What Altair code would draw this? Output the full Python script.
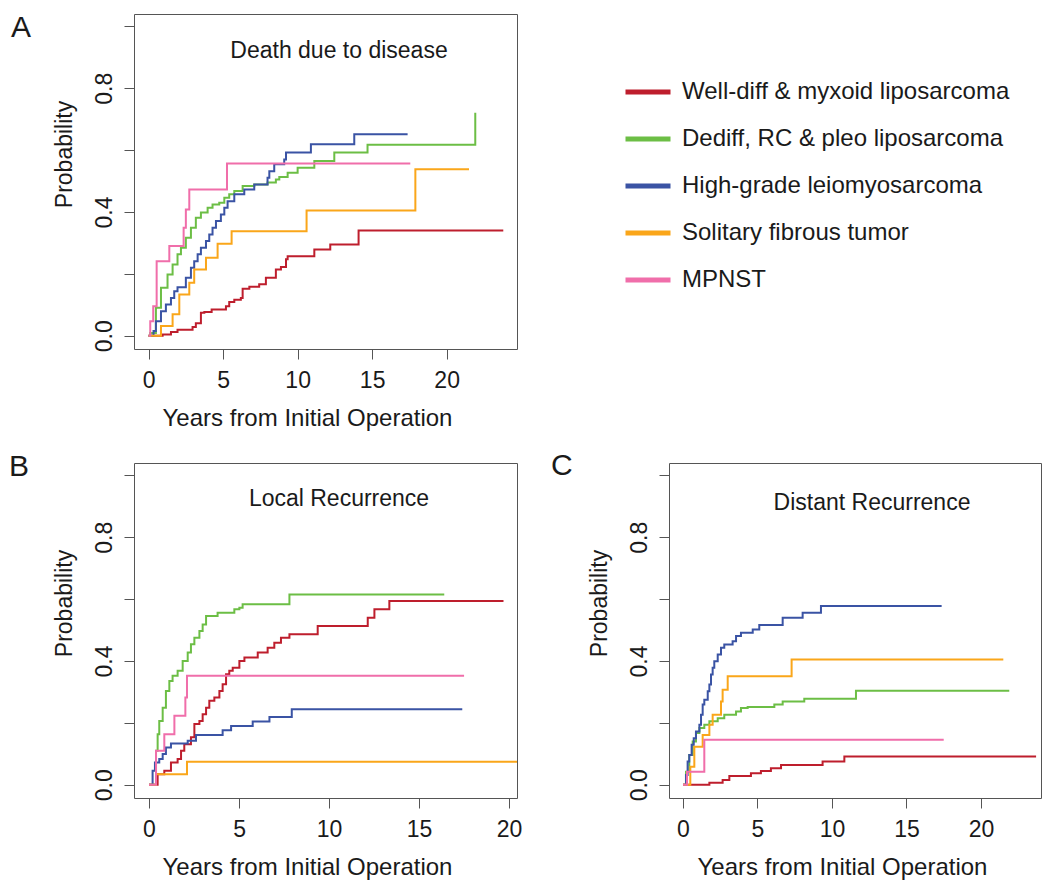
import altair as alt
import pandas as pd

FONT = "Liberation Sans"
TEXT = "#1a1a1a"
FRAME = "#555555"

GROUPS = ["Well-diff & myxoid liposarcoma", "Dediff, RC & pleo liposarcoma",
          "High-grade leiomyosarcoma", "Solitary fibrous tumor", "MPNST"]
COLORS = ["#BE1E2D", "#6CBE45", "#3A53A4", "#FAA61A", "#F06EAA"]

X_TICKS = [0, 5, 10, 15, 20]
Y_TICKS = [0, 0.2, 0.4, 0.6, 0.8, 1.0]

# ---- Panel A: death due to disease ----
death_wd_t = [0, 0.94, 1.50, 1.94, 2.95, 3.17, 3.51, 3.74, 4.23, 5.19, 5.41, 5.75, 6.19, 6.31, 6.76,
              7.42, 7.87, 8.54, 8.88, 9.22, 9.33, 11.12, 12.19, 14.09, 23.8]
death_wd_p = [0, 0.004, 0.012, 0.019, 0.028, 0.040, 0.074, 0.077, 0.085, 0.095, 0.109, 0.116, 0.122, 0.152, 0.158,
              0.166, 0.187, 0.214, 0.222, 0.247, 0.257, 0.279, 0.295, 0.340, 0.340]
death_dd_t = [0, 0.11, 0.49, 0.83, 1.27, 1.61, 1.94, 2.17, 2.50, 2.84, 3.17, 3.51, 3.96, 4.29, 4.74, 5.08,
              5.41, 5.75, 6.31, 7.09, 7.98, 8.54, 8.77, 9.33, 10.0, 11.12, 12.46, 14.69, 21.92]
death_dd_p = [0, 0.009, 0.090, 0.155, 0.198, 0.230, 0.263, 0.284, 0.317, 0.349, 0.381, 0.398, 0.414, 0.424, 0.430, 0.446,
              0.457, 0.468, 0.484, 0.489, 0.495, 0.505, 0.513, 0.527, 0.543, 0.565, 0.592, 0.617, 0.721]
death_hg_t = [0, 0.27, 0.33, 0.49, 0.83, 1.16, 1.50, 1.72, 1.94, 2.50, 2.84, 3.06, 3.29, 3.51, 3.85, 4.07,
              4.29, 4.52, 4.85, 5.08, 5.30, 5.75, 6.42, 7.09, 7.98, 8.10, 8.43, 9.10, 9.22, 10.89, 13.80, 17.38]
death_hg_p = [0, 0.0, 0.015, 0.047, 0.079, 0.101, 0.122, 0.144, 0.157, 0.187, 0.220, 0.241, 0.263, 0.284, 0.306, 0.327,
              0.349, 0.371, 0.392, 0.414, 0.435, 0.457, 0.473, 0.489, 0.511, 0.532, 0.554, 0.570, 0.592, 0.619, 0.651, 0.651]
death_sft_t = [0, 0.83, 1.61, 2.06, 2.73, 3.06, 3.85, 4.63, 5.57, 10.6, 17.9, 21.5]
death_sft_p = [0, 0.031, 0.069, 0.133, 0.171, 0.214, 0.252, 0.297, 0.338, 0.405, 0.538, 0.538]
death_mp_t = [0, 0.11, 0.31, 0.54, 1.39, 2.35, 2.50, 2.73, 5.26, 17.56]
death_mp_p = [0, 0.047, 0.095, 0.241, 0.290, 0.349, 0.408, 0.473, 0.557, 0.557]

# ---- Panel B: local recurrence ----
local_wd_t = [0, 0.39, 0.48, 0.85, 1.22, 1.59, 1.78, 1.96, 2.33, 2.52, 2.80, 2.98, 3.17, 3.35, 3.63, 3.91,
              4.09, 4.28, 4.46, 4.65, 5.02, 5.30, 6.04, 6.59, 6.96, 7.33, 7.80, 9.37, 12.15, 12.52, 13.35, 19.69]
local_wd_p = [0, 0.0, 0.034, 0.045, 0.072, 0.083, 0.110, 0.131, 0.153, 0.196, 0.206, 0.228, 0.249, 0.271, 0.282, 0.303,
              0.325, 0.357, 0.368, 0.378, 0.400, 0.411, 0.427, 0.443, 0.459, 0.475, 0.486, 0.513, 0.540, 0.567, 0.594, 0.594]
local_dd_t = [0, 0.39, 0.48, 0.57, 0.76, 0.94, 1.13, 1.31, 1.59, 1.87, 2.15, 2.33, 2.52, 2.80, 2.98, 3.17,
              3.81, 4.74, 5.02, 5.20, 7.80, 16.4]
local_dd_p = [0, 0.110, 0.163, 0.206, 0.249, 0.303, 0.335, 0.352, 0.368, 0.400, 0.427, 0.454, 0.475, 0.497, 0.518, 0.545,
              0.556, 0.567, 0.572, 0.583, 0.615, 0.615]
local_hg_t = [0, 0.20, 0.33, 0.57, 0.76, 0.94, 1.22, 2.15, 2.61, 4.09, 4.56, 5.76, 6.69, 7.93, 17.4]
local_hg_p = [0, 0.045, 0.072, 0.083, 0.099, 0.120, 0.133, 0.142, 0.161, 0.176, 0.190, 0.204, 0.219, 0.244, 0.244]
local_sft_t = [0, 0.39, 2.11, 21.0]
local_sft_p = [0, 0.034, 0.074, 0.074]
local_mp_t = [0, 0.39, 0.85, 1.41, 2.02, 2.11, 17.5]
local_mp_p = [0, 0.110, 0.163, 0.223, 0.282, 0.352, 0.352]

# ---- Panel C: distant recurrence ----
dist_wd_t = [0, 1.77, 2.66, 3.11, 4.56, 5.23, 5.90, 6.58, 9.37, 10.83, 23.7]
dist_wd_p = [0, 0.006, 0.015, 0.028, 0.037, 0.044, 0.053, 0.064, 0.075, 0.091, 0.091]
dist_dd_t = [0, 0.20, 0.42, 0.65, 0.87, 1.10, 1.43, 1.77, 2.33, 2.77, 3.56, 3.89, 4.34, 6.13, 6.69, 8.14, 11.61, 21.9]
dist_dd_p = [0, 0.042, 0.096, 0.140, 0.167, 0.183, 0.194, 0.205, 0.215, 0.226, 0.237, 0.248, 0.251, 0.259, 0.269,
             0.278, 0.304, 0.304]
dist_hg_t = [0, 0.20, 0.31, 0.42, 0.58, 0.72, 0.87, 1.10, 1.21, 1.32, 1.43, 1.66, 1.77, 1.88, 1.99, 2.10,
             2.33, 2.55, 2.77, 3.33, 3.56, 3.89, 4.68, 5.12, 6.69, 8.03, 9.26, 17.36]
dist_hg_p = [0, 0.031, 0.075, 0.096, 0.129, 0.150, 0.172, 0.194, 0.226, 0.259, 0.275, 0.302, 0.324, 0.356, 0.378, 0.399,
             0.421, 0.443, 0.453, 0.464, 0.481, 0.491, 0.502, 0.516, 0.540, 0.556, 0.578, 0.578]
dist_sft_t = [0, 0.31, 0.49, 0.76, 1.32, 1.77, 1.99, 2.55, 2.66, 3.00, 7.29, 21.5]
dist_sft_p = [0, 0.0, 0.058, 0.123, 0.161, 0.194, 0.226, 0.269, 0.307, 0.351, 0.405, 0.405]
dist_mp_t = [0, 0.27, 1.43, 17.5]
dist_mp_p = [0, 0.042, 0.145, 0.145]


def frame(series):
    rows = []
    for name, ts, ps in series:
        for i, (t, p) in enumerate(zip(ts, ps)):
            rows.append({"group": name, "t": t, "p": p, "order": i})
    return pd.DataFrame(rows)


df_death = frame([(GROUPS[0], death_wd_t, death_wd_p), (GROUPS[1], death_dd_t, death_dd_p),
                  (GROUPS[2], death_hg_t, death_hg_p), (GROUPS[3], death_sft_t, death_sft_p),
                  (GROUPS[4], death_mp_t, death_mp_p)])
df_local = frame([(GROUPS[0], local_wd_t, local_wd_p), (GROUPS[1], local_dd_t, local_dd_p),
                  (GROUPS[2], local_hg_t, local_hg_p), (GROUPS[3], local_sft_t, local_sft_p),
                  (GROUPS[4], local_mp_t, local_mp_p)])
df_dist = frame([(GROUPS[0], dist_wd_t, dist_wd_p), (GROUPS[1], dist_dd_t, dist_dd_p),
                 (GROUPS[2], dist_hg_t, dist_hg_p), (GROUPS[3], dist_sft_t, dist_sft_p),
                 (GROUPS[4], dist_mp_t, dist_mp_p)])

color_scale = alt.Scale(domain=GROUPS, range=COLORS)
legend = alt.Legend(orient="none", legendX=489, legendY=53, title=None, symbolType="stroke",
                    symbolSize=2025, symbolStrokeWidth=5, labelFontSize=24, labelFont=FONT,
                    labelColor=TEXT, rowPadding=10, labelOffset=9, padding=0, labelLimit=600)

y_label_expr = ("(abs(datum.value) < 0.01 || abs(datum.value - 0.4) < 0.01 || abs(datum.value - 0.8) < 0.01)"
                " ? format(datum.value, '.1f') : ''")


def panel(df, title, title_x, title_y, letter, letter_x, letter_y, letter_baseline, width, xdom):
    xaxis = alt.Axis(values=X_TICKS, format="d", tickSize=10, labelPadding=10, labelBaseline="top",
                     labelFontSize=23, labelFlush=False, title="Years from Initial Operation",
                     titleX=173, titleY=76, titleAlign="center", titleBaseline="alphabetic",
                     titleFontSize=24, titleFontWeight="normal", grid=False, domain=False)
    yaxis = alt.Axis(values=Y_TICKS, labelExpr=y_label_expr, labelAngle=270, labelAlign="center",
                     labelBaseline="alphabetic", labelPadding=13, tickSize=10, labelFontSize=23,
                     labelFlush=False, labelOverlap=False, title="Probability", titleAngle=270,
                     titleX=-70, titleY=140, titleAlign="center", titleBaseline="middle",
                     titleFontSize=23, titleFontWeight="normal", grid=False, domain=False)
    lines = alt.Chart(df).mark_line(interpolate="step-after", strokeWidth=2, clip=True).encode(
        x=alt.X("t:Q", scale=alt.Scale(domain=xdom, nice=False, zero=False), axis=xaxis),
        y=alt.Y("p:Q", scale=alt.Scale(domain=[-0.043, 1.04], nice=False, zero=False), axis=yaxis),
        color=alt.Color("group:N", scale=color_scale, legend=legend),
        order="order:Q",
    )
    ttl = alt.Chart(pd.DataFrame({"label": [title]})).mark_text(
        font=FONT, fontSize=23, color=TEXT, align="center", baseline="alphabetic"
    ).encode(x=alt.value(title_x), y=alt.value(title_y), text="label:N")
    let = alt.Chart(pd.DataFrame({"label": [letter]})).mark_text(
        font=FONT, fontSize=30, color=TEXT, align="left", baseline=letter_baseline
    ).encode(x=alt.value(letter_x), y=alt.value(letter_y), text="label:N")
    return alt.layer(lines, ttl, let).properties(width=width, height=335)


pA = panel(df_death, "Death due to disease", 205, 44, "A", -123, -1, "top", 383, [-0.98, 24.72])
pB = panel(df_local, "Local Recurrence", 205, 43, "B", -125, 13, "alphabetic", 383, [-0.833, 20.44])
pC = panel(df_dist, "Distant Recurrence", 203, 47, "C", -118, 12, "alphabetic", 372, [-0.94, 24.03])

bottom = alt.hconcat(pB, pC, spacing=152, bounds="flush").resolve_scale(
    x="independent", y="independent", color="shared")

chart = alt.vconcat(pA, bottom, spacing=114, bounds="flush").resolve_scale(
    x="independent", y="independent", color="shared"
).properties(padding={"top": 4, "left": 0, "right": 0, "bottom": 0}).configure(font=FONT).configure_view(
    stroke=FRAME, strokeWidth=1
).configure_axis(
    labelFont=FONT, titleFont=FONT, labelColor=TEXT, titleColor=TEXT, tickColor=FRAME, tickWidth=1
)

chart.save("out.html", embed_options={"renderer": "svg", "actions": False})
